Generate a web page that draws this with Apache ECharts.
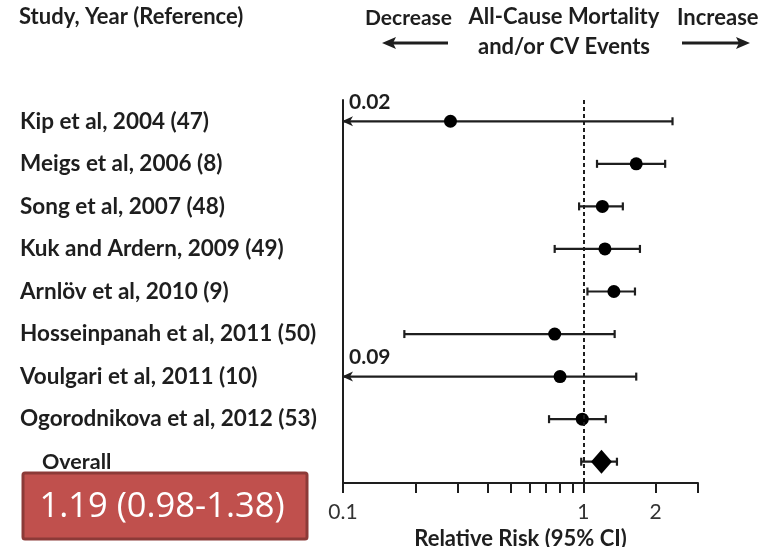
<!DOCTYPE html>
<html><head><meta charset="utf-8">
<script src="https://cdn.jsdelivr.net/npm/echarts@6/dist/echarts.min.js"></script>
<style>html,body{margin:0;padding:0;background:#fff}#c{width:773px;height:547px}</style>
</head><body><div id="c"></div>
<script>
const studies = ['Kip et al, 2004 (47)', 'Meigs et al, 2006 (8)', 'Song et al, 2007 (48)', 'Kuk and Ardern, 2009 (49)', 'Arnlöv et al, 2010 (9)', 'Hosseinpanah et al, 2011 (50)', 'Voulgari et al, 2011 (10)', 'Ogorodnikova et al, 2012 (53)', 'Overall'];
const rr    = [0.28, 1.66, 1.20, 1.23, 1.34, 0.76, 0.80, 0.99, 1.19];
const lower = [0.02, 1.14, 0.96, 0.76, 1.04, 0.18, 0.09, 0.72, 0.98];
const upper = [2.35, 2.19, 1.46, 1.72, 1.64, 1.35, 1.66, 1.24, 1.38];
const tickValues = [0.1, 0.2, 0.3, 0.4, 0.5, 0.6, 0.7, 0.8, 0.9, 1, 2, 3];
const tickLabels = [0.1, 1, 2];
const axisMin = 0.1, axisMax = 3;
const overallText = '1.19 (0.98-1.38)';

const FONT = 'Lato';
const INK = '#1e1e1e';
const chart = echarts.init(document.getElementById('c'));

const ciData = studies.map((s, i) => [lower[i], upper[i], i]);
const ptData = studies.map((s, i) => {
  const item = { value: [rr[i], i] };
  if (s === 'Overall') { item.symbol = 'diamond'; item.symbolSize = [21, 24]; }
  return item;
});

chart.setOption({
  animation: false,
  grid: { left: 343, right: 75, top: 100, bottom: 64, outerBoundsMode: 'none', containLabel: false },
  xAxis: {
    type: 'log', logBase: 10, min: axisMin, max: axisMax,
    axisLine: { show: true, onZero: false, lineStyle: { color: INK, width: 2 } },
    axisTick: { show: true, length: 10, customValues: tickValues, lineStyle: { color: INK, width: 2 } },
    axisLabel: { customValues: tickLabels, margin: 19, color: '#333', fontFamily: FONT, fontSize: 21,
      formatter: v => String(v) },
    splitLine: { show: false },
    name: 'Relative Risk (95% CI)', nameLocation: 'middle', nameGap: 44,
    nameTextStyle: { color: INK, fontFamily: FONT, fontWeight: 'bold', fontSize: 22 }
  },
  yAxis: {
    type: 'category', data: studies, inverse: true,
    axisLine: { show: true, lineStyle: { color: INK, width: 2 } },
    axisTick: { show: false },
    splitLine: { show: false },
    axisLabel: {
      align: 'left', margin: 323, color: INK, fontFamily: FONT, fontWeight: 'bold', fontSize: 22.5,
      formatter: v => v === 'Overall' ? '{o|' + v + '}' : v,
      rich: { o: { padding: [0, 0, 0, 22], fontFamily: FONT, fontWeight: 'bold', fontSize: 21.5, color: INK } }
    }
  },
  series: [
    {
      type: 'custom', z: 2,
      data: ciData,
      encode: { x: [0, 1], y: 2 },
      renderItem: function (params, api) {
        const lo = api.value(0), hi = api.value(1), y = api.value(2);
        const clipped = lo < axisMin;
        const p1 = api.coord([clipped ? axisMin : lo, y]);
        const p2 = api.coord([hi, y]);
        const st = { stroke: INK, lineWidth: 2.2 };
        const ch = [
          { type: 'line', shape: { x1: p1[0], y1: p1[1], x2: p2[0], y2: p2[1] }, style: st },
          { type: 'line', shape: { x1: p2[0], y1: p2[1] - 4, x2: p2[0], y2: p2[1] + 4 }, style: st }
        ];
        if (clipped) {
          ch.push({ type: 'polygon', shape: { points: [[p1[0] - 1, p1[1]], [p1[0] + 10, p1[1] - 5], [p1[0] + 7, p1[1]], [p1[0] + 10, p1[1] + 5]] }, style: { fill: INK } });
          ch.push({ type: 'text', x: p1[0] + 6, y: p1[1] - 19, style: { text: lo.toFixed(2), fill: INK, font: 'bold 21px ' + FONT, textVerticalAlign: 'middle' } });
        } else {
          ch.push({ type: 'line', shape: { x1: p1[0], y1: p1[1] - 4, x2: p1[0], y2: p1[1] + 4 }, style: st });
        }
        return { type: 'group', children: ch };
      }
    },
    {
      type: 'scatter', z: 3,
      data: ptData,
      symbol: 'circle', symbolSize: 13,
      itemStyle: { color: '#000', opacity: 1 },
      markLine: {
        silent: true, symbol: 'none', label: { show: false },
        lineStyle: { color: INK, width: 2, type: [4, 3], opacity: 1 },
        data: [{ xAxis: 1 }]
      }
    }
  ],
  graphic: [
    { type: 'text', x: 19, y: 17, style: { text: 'Study, Year (Reference)', fill: INK, font: 'bold 22px ' + FONT, verticalAlign: 'middle' } },
    { type: 'text', x: 365, y: 18, style: { text: 'Decrease', fill: INK, font: 'bold 21px ' + FONT, verticalAlign: 'middle' } },
    { type: 'text', x: 564, y: 17, style: { text: 'All-Cause Mortality', fill: INK, font: 'bold 22px ' + FONT, align: 'center', verticalAlign: 'middle' } },
    { type: 'text', x: 564, y: 47, style: { text: 'and/or CV Events', fill: INK, font: 'bold 22px ' + FONT, align: 'center', verticalAlign: 'middle' } },
    { type: 'text', x: 677, y: 18, style: { text: 'Increase', fill: INK, font: 'bold 22px ' + FONT, verticalAlign: 'middle' } },
    { type: 'line', shape: { x1: 388, y1: 43, x2: 448, y2: 43 }, style: { stroke: INK, lineWidth: 3 } },
    { type: 'polygon', shape: { points: [[382, 43], [396, 37], [393, 43], [396, 49]] }, style: { fill: INK } },
    { type: 'line', shape: { x1: 682, y1: 43, x2: 744, y2: 43 }, style: { stroke: INK, lineWidth: 3 } },
    { type: 'polygon', shape: { points: [[750, 43], [736, 37], [739, 43], [736, 49]] }, style: { fill: INK } },
    { type: 'rect', shape: { x: 23, y: 473, width: 284, height: 66, r: 2 }, style: { fill: '#C0504D', stroke: '#8C3A38', lineWidth: 3 } },
    { type: 'text', x: 162, y: 507, style: { text: overallText, fill: '#fff', font: '34.5px "Open Sans"', align: 'center', verticalAlign: 'middle' } }
  ]
});
</script></body></html>
